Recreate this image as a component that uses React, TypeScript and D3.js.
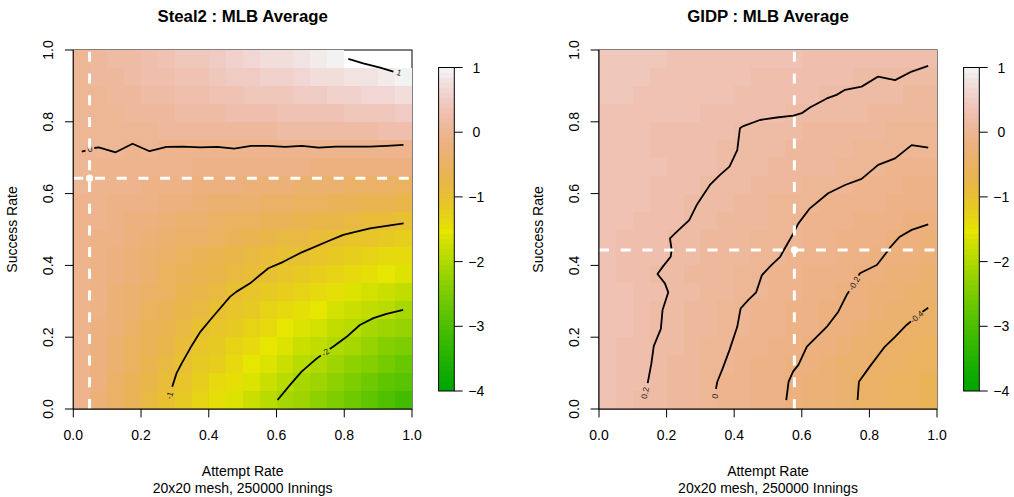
import React from 'react';
import * as d3 from 'd3';

// axis ticks
const rateTicks = [0, 0.2, 0.4, 0.6, 0.8, 1.0];
const legendTicks = [1, 0, -1, -2, -3, -4];
const zRange = [-4, 1];

// Steal2 : 20x20 mesh, rows from success 0.025 (bottom) up to 0.975 (top)
// a value above 1 is outside zlim and is left blank
const steal2Rows = [
  [-0.09, -0.27, -0.45, -0.63, -0.8, -0.98, -1.14, -1.29, -1.44, -1.59, -1.74, -1.9, -2.05, -2.2, -2.35, -2.5, -2.65, -2.81, -2.96, -3.11],
  [-0.08, -0.25, -0.41, -0.58, -0.75, -0.91, -1.07, -1.21, -1.35, -1.49, -1.63, -1.77, -1.91, -2.05, -2.19, -2.33, -2.48, -2.62, -2.76, -2.9],
  [-0.08, -0.23, -0.38, -0.54, -0.69, -0.84, -1.0, -1.13, -1.26, -1.39, -1.52, -1.65, -1.78, -1.91, -2.04, -2.17, -2.3, -2.43, -2.56, -2.69],
  [-0.07, -0.21, -0.35, -0.49, -0.63, -0.77, -0.91, -1.04, -1.16, -1.28, -1.4, -1.52, -1.64, -1.76, -1.88, -2.0, -2.12, -2.24, -2.36, -2.48],
  [-0.06, -0.19, -0.32, -0.45, -0.57, -0.7, -0.83, -0.96, -1.07, -1.18, -1.29, -1.4, -1.51, -1.61, -1.72, -1.83, -1.94, -2.05, -2.16, -2.26],
  [-0.06, -0.17, -0.29, -0.4, -0.52, -0.63, -0.75, -0.86, -0.98, -1.08, -1.17, -1.27, -1.37, -1.47, -1.56, -1.66, -1.76, -1.86, -1.96, -2.05],
  [-0.05, -0.15, -0.26, -0.36, -0.46, -0.56, -0.66, -0.77, -0.87, -0.97, -1.06, -1.15, -1.23, -1.32, -1.41, -1.49, -1.58, -1.67, -1.75, -1.84],
  [-0.05, -0.13, -0.22, -0.31, -0.4, -0.49, -0.58, -0.67, -0.76, -0.85, -0.94, -1.02, -1.1, -1.17, -1.25, -1.33, -1.4, -1.48, -1.55, -1.63],
  [-0.04, -0.12, -0.19, -0.27, -0.34, -0.42, -0.5, -0.57, -0.65, -0.73, -0.8, -0.88, -0.96, -1.03, -1.09, -1.16, -1.22, -1.29, -1.35, -1.42],
  [-0.03, -0.1, -0.16, -0.22, -0.29, -0.35, -0.41, -0.48, -0.54, -0.61, -0.67, -0.73, -0.8, -0.86, -0.92, -0.99, -1.04, -1.1, -1.15, -1.21],
  [-0.03, -0.08, -0.13, -0.18, -0.23, -0.28, -0.33, -0.38, -0.43, -0.49, -0.54, -0.59, -0.64, -0.69, -0.74, -0.79, -0.84, -0.89, -0.94, -0.99],
  [-0.02, -0.06, -0.1, -0.13, -0.17, -0.21, -0.25, -0.29, -0.33, -0.36, -0.4, -0.44, -0.48, -0.52, -0.56, -0.59, -0.63, -0.67, -0.71, -0.75],
  [-0.01, -0.04, -0.06, -0.09, -0.12, -0.14, -0.17, -0.19, -0.22, -0.24, -0.27, -0.29, -0.32, -0.34, -0.37, -0.4, -0.42, -0.45, -0.47, -0.5],
  [-0.01, -0.02, -0.03, -0.05, -0.06, -0.07, -0.08, -0.1, -0.11, -0.12, -0.13, -0.15, -0.16, -0.17, -0.19, -0.2, -0.21, -0.22, -0.24, -0.25],
  [0.01, -0.01, 0.01, -0.03, 0.02, -0.02, -0.02, -0.02, -0.02, -0.03, -0.02, -0.03, -0.03, -0.02, -0.03, -0.04, -0.03, -0.03, -0.04, -0.04],
  [0.01, 0.02, 0.03, 0.04, 0.05, 0.07, 0.08, 0.09, 0.1, 0.11, 0.13, 0.14, 0.15, 0.16, 0.17, 0.19, 0.2, 0.21, 0.22, 0.23],
  [0.01, 0.04, 0.06, 0.08, 0.11, 0.13, 0.16, 0.18, 0.2, 0.23, 0.25, 0.28, 0.3, 0.32, 0.35, 0.37, 0.4, 0.42, 0.44, 0.47],
  [0.02, 0.05, 0.09, 0.13, 0.16, 0.2, 0.23, 0.27, 0.31, 0.34, 0.38, 0.41, 0.45, 0.49, 0.52, 0.56, 0.59, 0.63, 0.67, 0.7],
  [0.02, 0.07, 0.12, 0.17, 0.22, 0.26, 0.31, 0.36, 0.41, 0.46, 0.5, 0.55, 0.6, 0.65, 0.7, 0.74, 0.79, 0.84, 0.89, 0.94],
  [0.03, 0.09, 0.15, 0.21, 0.27, 0.33, 0.39, 0.45, 0.51, 0.57, 0.63, 0.69, 0.75, 0.81, 0.87, 0.96, 1.02, 1.06, 1.12, 1.16],
];

// GIDP : same mesh
const gidpRows = [
  [0.31, 0.26, 0.21, 0.16, 0.11, 0.07, 0.02, -0.03, -0.08, -0.13, -0.17, -0.22, -0.27, -0.32, -0.36, -0.41, -0.46, -0.51, -0.55, -0.6],
  [0.32, 0.27, 0.22, 0.17, 0.12, 0.07, 0.02, -0.02, -0.07, -0.12, -0.17, -0.21, -0.26, -0.31, -0.36, -0.41, -0.45, -0.5, -0.55, -0.6],
  [0.32, 0.27, 0.23, 0.18, 0.14, 0.09, 0.04, -0.01, -0.05, -0.1, -0.14, -0.19, -0.23, -0.28, -0.33, -0.37, -0.42, -0.46, -0.51, -0.56],
  [0.32, 0.28, 0.23, 0.19, 0.15, 0.1, 0.06, 0.01, -0.03, -0.08, -0.12, -0.16, -0.21, -0.25, -0.3, -0.34, -0.38, -0.43, -0.47, -0.51],
  [0.34, 0.3, 0.25, 0.21, 0.16, 0.12, 0.07, 0.03, -0.01, -0.05, -0.09, -0.13, -0.17, -0.2, -0.25, -0.29, -0.33, -0.37, -0.42, -0.46],
  [0.34, 0.3, 0.25, 0.21, 0.17, 0.13, 0.08, 0.04, 0.0, -0.04, -0.07, -0.11, -0.14, -0.18, -0.21, -0.25, -0.29, -0.33, -0.37, -0.41],
  [0.34, 0.3, 0.26, 0.22, 0.19, 0.15, 0.11, 0.07, 0.03, -0.01, -0.04, -0.08, -0.12, -0.15, -0.19, -0.23, -0.27, -0.3, -0.34, -0.38],
  [0.3, 0.27, 0.23, 0.2, 0.17, 0.13, 0.1, 0.07, 0.04, 0.01, -0.03, -0.06, -0.1, -0.13, -0.17, -0.2, -0.24, -0.27, -0.31, -0.34],
  [0.32, 0.29, 0.26, 0.23, 0.19, 0.16, 0.13, 0.1, 0.07, 0.04, 0.01, -0.03, -0.06, -0.09, -0.12, -0.16, -0.19, -0.22, -0.25, -0.29],
  [0.31, 0.28, 0.25, 0.22, 0.19, 0.16, 0.14, 0.11, 0.08, 0.05, 0.02, -0.01, -0.04, -0.07, -0.1, -0.13, -0.16, -0.19, -0.22, -0.26],
  [0.35, 0.32, 0.29, 0.26, 0.23, 0.2, 0.17, 0.13, 0.1, 0.07, 0.04, 0.01, -0.02, -0.05, -0.08, -0.11, -0.14, -0.16, -0.18, -0.19],
  [0.36, 0.33, 0.3, 0.27, 0.24, 0.21, 0.18, 0.15, 0.12, 0.09, 0.06, 0.03, 0.0, -0.03, -0.05, -0.07, -0.09, -0.12, -0.14, -0.16],
  [0.35, 0.33, 0.3, 0.28, 0.25, 0.23, 0.2, 0.18, 0.15, 0.13, 0.1, 0.08, 0.05, 0.03, 0.0, -0.02, -0.05, -0.08, -0.1, -0.13],
  [0.36, 0.34, 0.32, 0.3, 0.27, 0.25, 0.23, 0.21, 0.18, 0.16, 0.14, 0.11, 0.09, 0.07, 0.05, 0.02, 0.0, -0.02, -0.05, -0.07],
  [0.35, 0.33, 0.31, 0.29, 0.27, 0.25, 0.23, 0.21, 0.19, 0.18, 0.16, 0.14, 0.12, 0.1, 0.08, 0.06, 0.04, 0.02, 0.0, -0.01],
  [0.34, 0.32, 0.3, 0.29, 0.27, 0.25, 0.23, 0.22, 0.2, 0.18, 0.17, 0.15, 0.14, 0.12, 0.11, 0.09, 0.08, 0.06, 0.05, 0.03],
  [0.37, 0.36, 0.34, 0.33, 0.31, 0.3, 0.28, 0.27, 0.25, 0.24, 0.22, 0.21, 0.19, 0.18, 0.16, 0.15, 0.13, 0.12, 0.1, 0.09],
  [0.4, 0.39, 0.37, 0.36, 0.34, 0.33, 0.31, 0.3, 0.28, 0.27, 0.25, 0.24, 0.22, 0.21, 0.19, 0.18, 0.16, 0.15, 0.13, 0.12],
  [0.4, 0.39, 0.38, 0.36, 0.35, 0.34, 0.33, 0.31, 0.3, 0.29, 0.28, 0.26, 0.25, 0.24, 0.23, 0.21, 0.2, 0.21, 0.19, 0.18],
  [0.41, 0.4, 0.39, 0.38, 0.37, 0.36, 0.35, 0.34, 0.33, 0.32, 0.31, 0.3, 0.29, 0.28, 0.27, 0.26, 0.25, 0.24, 0.23, 0.22],
];

type Pt = [number, number] | null;
type Contour = { label: string; at: [number, number]; pts: Pt[] };

// contour lines, [attempt, success]; null = gap for the label
const steal2Contours: Contour[] = [
  { label: '1', at: [0.962, 0.937], pts: [[0.812, 0.975], [0.856, 0.963], [0.906, 0.951], [0.945, 0.94]] },
  {
    label: '0', at: [0.049, 0.724],
    pts: [[0.025, 0.717], [0.036, 0.72], null, [0.062, 0.727], [0.075, 0.729], [0.125, 0.715], [0.175, 0.739], [0.225, 0.718],
      [0.275, 0.73], [0.325, 0.731], [0.375, 0.729], [0.425, 0.73], [0.475, 0.725], [0.525, 0.733], [0.575, 0.733],
      [0.625, 0.73], [0.675, 0.733], [0.725, 0.728], [0.775, 0.731], [0.825, 0.731], [0.875, 0.731], [0.925, 0.733], [0.975, 0.736]],
  },
  {
    label: '-1', at: [0.284, 0.038],
    pts: [[0.292, 0.062], [0.305, 0.1], [0.32, 0.127], [0.345, 0.169], [0.375, 0.215], [0.404, 0.248], [0.433, 0.28],
      [0.463, 0.313], [0.482, 0.327], [0.522, 0.35], [0.546, 0.369], [0.576, 0.392], [0.62, 0.41], [0.669, 0.434],
      [0.699, 0.446], [0.748, 0.466], [0.797, 0.485], [0.827, 0.492], [0.876, 0.503], [0.925, 0.51], [0.975, 0.517]],
  },
  {
    label: '-2', at: [0.744, 0.158],
    pts: [[0.603, 0.025], [0.64, 0.067], [0.674, 0.104], [0.719, 0.141], [0.731, 0.149], null, [0.757, 0.167], [0.768, 0.174],
      [0.807, 0.201], [0.846, 0.234], [0.886, 0.253], [0.925, 0.265], [0.974, 0.276]],
  },
];

const gidpContours: Contour[] = [
  {
    label: '0.2', at: [0.136, 0.045],
    pts: [[0.144, 0.072], [0.155, 0.127], [0.162, 0.175], [0.183, 0.223], [0.188, 0.276], [0.205, 0.325], [0.195, 0.35],
      [0.173, 0.376], [0.19, 0.398], [0.212, 0.424], [0.215, 0.443], [0.21, 0.475], [0.225, 0.489], [0.267, 0.526],
      [0.289, 0.568], [0.328, 0.624], [0.358, 0.652], [0.386, 0.675], [0.409, 0.721], [0.417, 0.782], [0.427, 0.788],
      [0.476, 0.805], [0.526, 0.812], [0.575, 0.817], [0.6, 0.824], [0.624, 0.84], [0.674, 0.865], [0.703, 0.875],
      [0.728, 0.889], [0.777, 0.898], [0.826, 0.926], [0.876, 0.916], [0.925, 0.94], [0.974, 0.956]],
  },
  {
    label: '0', at: [0.343, 0.036],
    pts: [[0.346, 0.056], [0.35, 0.076], [0.366, 0.113], [0.386, 0.164], [0.409, 0.229], [0.419, 0.28], [0.442, 0.304],
      [0.465, 0.325], [0.482, 0.373], [0.51, 0.401], [0.536, 0.424], [0.547, 0.443], [0.575, 0.489], [0.59, 0.517],
      [0.624, 0.559], [0.678, 0.601], [0.728, 0.624], [0.777, 0.641], [0.826, 0.68], [0.876, 0.698], [0.925, 0.735], [0.974, 0.728]],
  },
  {
    label: '-0.2', at: [0.755, 0.35],
    pts: [[0.554, 0.025], [0.561, 0.076], [0.574, 0.104], [0.59, 0.123], [0.615, 0.174], [0.644, 0.201], [0.676, 0.231],
      [0.708, 0.271], [0.733, 0.318], [0.74, 0.328], null, [0.768, 0.372], [0.772, 0.378], [0.822, 0.401], [0.841, 0.424],
      [0.856, 0.443], [0.863, 0.452], [0.89, 0.48], [0.925, 0.499], [0.974, 0.514]],
  },
  {
    label: '-0.4', at: [0.94, 0.257],
    pts: [[0.765, 0.025], [0.769, 0.076], [0.801, 0.118], [0.846, 0.174], [0.876, 0.201], [0.91, 0.234], [0.923, 0.244],
      null, [0.957, 0.271], [0.974, 0.282]],
  },
];

// MLB average marker: [attempt rate, success rate]
const steal2Average: [number, number] = [0.048, 0.643];
const gidpAverage: [number, number] = [0.578, 0.443];

const FONT = '"Liberation Sans", Arial, Helvetica, sans-serif';
const TOP = 50;
const BOTTOM = 409;
const LEG_TOP = 67.5;
const LEG_BOTTOM = 391;
const TICK = 8.4;

// R terrain.colors(n)
function hsvHex(h: number, s: number, v: number) {
  const i = Math.floor(h * 6);
  const f = h * 6 - i;
  const p = v * (1 - s), q = v * (1 - f * s), t = v * (1 - (1 - f) * s);
  let r = v, g = t, b = p;
  switch (((i % 6) + 6) % 6) {
    case 0: r = v; g = t; b = p; break;
    case 1: r = q; g = v; b = p; break;
    case 2: r = p; g = v; b = t; break;
    case 3: r = p; g = q; b = v; break;
    case 4: r = t; g = p; b = v; break;
    default: r = v; g = p; b = q;
  }
  return d3.rgb(Math.round(r * 255), Math.round(g * 255), Math.round(b * 255)).formatHex();
}

function terrainColors(n: number) {
  const k = Math.floor(n / 2);
  const out: string[] = [];
  for (let i = 0; i < k; i++) {
    const t = i / (k - 1);
    out.push(hsvHex(4 / 12 - (2 / 12) * t, 1, 0.65 + 0.25 * t));
  }
  const m = n - k;
  for (let i = 1; i <= m; i++) {
    const t = i / m;
    out.push(hsvHex((2 / 12) * (1 - t), 1 - t, 0.9 + 0.05 * t));
  }
  return out;
}

const palette = terrainColors(64);
const colorOf = d3.scaleQuantize<string>().domain(zRange).range(palette);

type PanelProps = {
  title: string;
  x0: number;
  x1: number;
  rows: number[][];
  contours: Contour[];
  average: [number, number];
};

function Panel({ title, x0, x1, rows, contours, average }: PanelProps) {
  const x = d3.scaleLinear().domain([0, 1]).range([x0, x1]);
  const y = d3.scaleLinear().domain([0, 1]).range([BOTTOM, TOP]);
  const nx = rows[0].length;
  const ny = rows.length;
  const line = d3.line<Pt>()
    .defined(d => d !== null)
    .x(d => x((d as [number, number])[0]))
    .y(d => y((d as [number, number])[1]));

  const legX = x1 + 26.6;
  const legW = 15.7;
  const ly = d3.scaleLinear().domain(zRange).range([LEG_BOTTOM, LEG_TOP]);
  const step = (zRange[1] - zRange[0]) / palette.length;

  const labelAngle = (c: Contour) => {
    const ps = c.pts.filter(p => p !== null).map(p => [x(p![0]), y(p![1])]);
    const lx = x(c.at[0]), lyy = y(c.at[1]);
    let k = 0, best = Infinity;
    ps.forEach((p, i) => {
      const d = Math.hypot(p[0] - lx, p[1] - lyy);
      if (d < best) { best = d; k = i; }
    });
    let a = k, b = k + 1;
    if (k === ps.length - 1) { a = k - 1; b = k; }
    else if (k > 0) {
      const dPrev = Math.hypot(ps[k - 1][0] - lx, ps[k - 1][1] - lyy);
      const dNext = Math.hypot(ps[k + 1][0] - lx, ps[k + 1][1] - lyy);
      if (dPrev < dNext) { a = k - 1; b = k; }
    }
    let ang = Math.atan2(ps[b][1] - ps[a][1], ps[b][0] - ps[a][0]) * 180 / Math.PI;
    if (ang > 90) ang -= 180;
    if (ang <= -90) ang += 180;
    return ang;
  };

  const cx = (x0 + x1) / 2;

  return (
    <g>
      <text x={cx} y={22} textAnchor="middle" fontWeight="bold" fontSize={16.8}>{title}</text>

      <rect x={x0} y={TOP} width={x1 - x0} height={BOTTOM - TOP} fill="none" stroke="#000" strokeWidth={1} />

      <g shapeRendering="crispEdges">
        {rows.map((row, j) => row.map((v, i) => {
          if (v > zRange[1] || v < zRange[0]) return null;
          return (
            <rect key={`${i}-${j}`} x={x(i / nx)} y={y((j + 1) / ny)}
              width={x((i + 1) / nx) - x(i / nx)} height={y(j / ny) - y((j + 1) / ny)}
              fill={colorOf(v)} />
          );
        }))}
      </g>

      {contours.map(c => (
        <g key={c.label}>
          <path d={line(c.pts) || ''} fill="none" stroke="#000" strokeWidth={1.8} strokeLinejoin="round" />
          <text transform={`translate(${x(c.at[0])},${y(c.at[1])}) rotate(${labelAngle(c)})`}
            textAnchor="middle" dominantBaseline="central" fontSize={8.4} fill="#222">{c.label}</text>
        </g>
      ))}

      <g stroke="#fff" strokeWidth={3} strokeDasharray="10 11.7" fill="none">
        <path d={`M${x(average[0])},${BOTTOM}V${TOP}`} />
        <path d={`M${x0},${y(average[1])}H${x1}`} />
      </g>
      <circle cx={x(average[0])} cy={y(average[1])} r={3.6} fill="#fff" />

      {/* x axis */}
      <g stroke="#000" strokeWidth={1}>
        <line x1={x(0)} x2={x(1)} y1={BOTTOM} y2={BOTTOM} />
        {rateTicks.map(t => <line key={t} x1={x(t)} x2={x(t)} y1={BOTTOM} y2={BOTTOM + TICK} />)}
        <line x1={x0} x2={x0} y1={y(0)} y2={y(1)} />
        {rateTicks.map(t => <line key={t} x1={x0} x2={x0 - TICK} y1={y(t)} y2={y(t)} />)}
      </g>
      {rateTicks.map(t => (
        <text key={t} x={x(t)} y={440} textAnchor="middle" fontSize={14}>{t.toFixed(1)}</text>
      ))}
      {rateTicks.map(t => (
        <text key={t} transform={`translate(${x0 - 20},${y(t)}) rotate(-90)`} textAnchor="middle" fontSize={14}>{t.toFixed(1)}</text>
      ))}
      <text x={cx} y={476} textAnchor="middle" fontSize={14}>Attempt Rate</text>
      <text x={cx} y={492.5} textAnchor="middle" fontSize={14}>20x20 mesh, 250000 Innings</text>
      <text transform={`translate(${x0 - 56},${(TOP + BOTTOM) / 2}) rotate(-90)`} textAnchor="middle" fontSize={14}>Success Rate</text>

      {/* colour legend */}
      <g shapeRendering="crispEdges">
        {palette.map((col, i) => (
          <rect key={col + i} x={legX} y={ly(zRange[0] + (i + 1) * step)} width={legW}
            height={ly(zRange[0] + i * step) - ly(zRange[0] + (i + 1) * step)} fill={col} />
        ))}
      </g>
      <rect x={legX} y={LEG_TOP} width={legW} height={LEG_BOTTOM - LEG_TOP} fill="none" stroke="#000" strokeWidth={1} />
      <g stroke="#000">
        {legendTicks.map(t => <line key={t} x1={legX + legW} x2={legX + legW + TICK} y1={ly(t)} y2={ly(t)} />)}
      </g>
      {legendTicks.map(t => (
        <text key={t} x={legX + legW + 22} y={ly(t) + 5} textAnchor="middle" fontSize={14}>
          {t < 0 ? `\u2212${-t}` : `${t}`}
        </text>
      ))}
    </g>
  );
}

export default function App() {
  return (
    <svg width={1014} height={497} style={{ position: 'absolute', left: 0, top: 0, background: '#fff' }}
      fontFamily={FONT}>
      <Panel title="Steal2 : MLB Average" x0={73.3} x1={412} rows={steal2Rows} contours={steal2Contours} average={steal2Average} />
      <Panel title="GIDP : MLB Average" x0={599} x1={937} rows={gidpRows} contours={gidpContours} average={gidpAverage} />
    </svg>
  );
}
